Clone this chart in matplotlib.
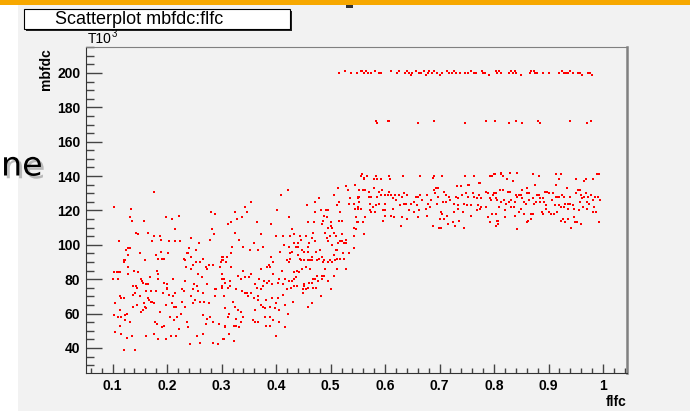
import numpy as np
import matplotlib.pyplot as plt
from matplotlib.patches import Rectangle
from matplotlib.ticker import MultipleLocator, FuncFormatter
import matplotlib.patheffects as pe

# values: (flfc, mbfdc in units of 10^3)
rise_left = [
    (0.175, 131), (0.103, 122), (0.134, 121), (0.281, 119), (0.288, 118), (0.197, 116), (0.222, 117),
    (0.132, 116), (0.209, 115), (0.136, 114), (0.157, 114), (0.215, 109), (0.282, 109), (0.143, 107),
    (0.146, 106), (0.165, 107), (0.176, 105), (0.187, 105), (0.286, 106), (0.188, 103), (0.173, 102),
    (0.278, 103), (0.111, 102), (0.203, 102), (0.214, 102), (0.224, 102), (0.243, 104), (0.259, 101),
    (0.240, 98), (0.132, 98), (0.129, 98), (0.124, 97), (0.151, 95), (0.189, 96), (0.201, 95),
    (0.252, 97), (0.236, 95), (0.239, 95), (0.128, 94), (0.180, 94), (0.191, 92), (0.194, 92),
    (0.184, 92), (0.120, 91), (0.123, 91), (0.159, 91), (0.120, 90), (0.230, 92), (0.232, 91),
    (0.244, 93), (0.252, 90), (0.260, 90), (0.266, 92), (0.247, 88), (0.243, 86), (0.235, 87),
    (0.271, 87), (0.277, 88), (0.285, 88), (0.299, 90), (0.302, 91), (0.297, 87), (0.303, 93),
    (0.129, 87), (0.140, 85), (0.181, 85), (0.102, 84), (0.107, 84), (0.110, 84), (0.114, 84),
    (0.147, 84), (0.273, 86), (0.301, 83), (0.129, 83), (0.184, 83), (0.257, 83), (0.101, 80),
    (0.110, 80), (0.168, 81), (0.183, 80), (0.211, 80), (0.233, 79), (0.263, 81), (0.304, 80),
    (0.152, 80), (0.154, 79), (0.156, 78), (0.162, 77), (0.164, 77), (0.137, 76), (0.143, 76),
    (0.194, 78), (0.199, 77), (0.200, 75), (0.250, 77), (0.254, 76), (0.273, 77), (0.288, 74),
    (0.290, 74), (0.301, 76), (0.247, 74), (0.257, 73), (0.145, 75), (0.162, 73), (0.171, 73),
    (0.180, 73), (0.200, 74), (0.203, 71), (0.215, 72), (0.193, 72), (0.227, 74), (0.230, 73),
    (0.141, 72), (0.138, 71), (0.113, 70), (0.120, 69), (0.116, 69), (0.266, 72), (0.287, 70),
    (0.304, 70), (0.165, 69), (0.167, 68), (0.170, 67), (0.173, 67), (0.176, 66), (0.150, 70),
    (0.157, 66), (0.211, 70), (0.227, 67), (0.244, 70), (0.251, 68), (0.261, 67), (0.268, 67),
    (0.276, 66), (0.104, 66), (0.197, 65), (0.208, 66), (0.137, 64), (0.145, 65), (0.159, 64),
    (0.161, 63), (0.212, 64), (0.217, 64), (0.232, 64), (0.248, 66), (0.306, 63), (0.114, 62),
    (0.152, 61), (0.156, 62), (0.187, 61), (0.126, 60), (0.123, 59), (0.102, 59), (0.109, 58),
    (0.116, 58), (0.123, 56), (0.131, 55), (0.206, 58), (0.218, 58), (0.225, 60), (0.265, 59),
    (0.279, 58), (0.273, 57), (0.213, 56), (0.284, 55), (0.271, 54), (0.295, 54), (0.306, 53),
    (0.178, 55), (0.181, 54), (0.195, 53), (0.191, 52), (0.236, 55), (0.238, 52), (0.113, 53),
    (0.221, 51), (0.105, 49), (0.116, 48), (0.127, 46), (0.135, 47), (0.161, 47), (0.175, 48),
    (0.207, 47), (0.217, 47), (0.255, 47), (0.266, 48), (0.183, 45), (0.197, 45), (0.241, 42),
    (0.261, 43), (0.285, 43), (0.293, 42), (0.304, 45), (0.121, 39), (0.141, 39),
]

rise_right = [
    (0.421, 132), (0.409, 129), (0.354, 125), (0.342, 122), (0.325, 119), (0.347, 119), (0.402, 120),
    (0.337, 116), (0.329, 115), (0.317, 113), (0.311, 112), (0.365, 113), (0.390, 112), (0.324, 107),
    (0.372, 106), (0.400, 105), (0.412, 105), (0.430, 109), (0.332, 103), (0.359, 101), (0.375, 99),
    (0.339, 99), (0.319, 99), (0.352, 97), (0.366, 97), (0.318, 95), (0.310, 93), (0.301, 93),
    (0.301, 91), (0.308, 90), (0.317, 87), (0.391, 93), (0.407, 96), (0.414, 100), (0.424, 99),
    (0.425, 95), (0.429, 96), (0.420, 91), (0.426, 92), (0.423, 90), (0.394, 90), (0.386, 88),
    (0.389, 87), (0.383, 87), (0.373, 86), (0.410, 85), (0.394, 83), (0.339, 85), (0.353, 83),
    (0.351, 81), (0.330, 82), (0.335, 80), (0.343, 81), (0.301, 80), (0.306, 78), (0.316, 79),
    (0.315, 76), (0.312, 75), (0.301, 75), (0.326, 74), (0.369, 80), (0.377, 79), (0.383, 78),
    (0.386, 79), (0.362, 77), (0.364, 75), (0.372, 74), (0.376, 76), (0.392, 77), (0.405, 80),
    (0.403, 78), (0.413, 77), (0.416, 80), (0.338, 73), (0.343, 72), (0.348, 70), (0.346, 72),
    (0.354, 72), (0.359, 69), (0.367, 70), (0.367, 68), (0.403, 69), (0.412, 71), (0.392, 69),
    (0.382, 68), (0.321, 67), (0.304, 70), (0.324, 64), (0.330, 62), (0.335, 61), (0.339, 58),
    (0.372, 65), (0.375, 64), (0.380, 63), (0.388, 64), (0.397, 63), (0.399, 66), (0.406, 62),
    (0.416, 65), (0.362, 62), (0.421, 60), (0.431, 67), (0.313, 60), (0.312, 58), (0.306, 63),
    (0.326, 57), (0.327, 53), (0.322, 53), (0.335, 55), (0.331, 52), (0.357, 56), (0.361, 55),
    (0.366, 55), (0.379, 58), (0.388, 58), (0.382, 53), (0.389, 53), (0.406, 55), (0.395, 56),
    (0.417, 52), (0.307, 52), (0.314, 48), (0.303, 45), (0.322, 44), (0.399, 47),
    (0.424, 116), (0.426, 105), (0.432, 106), (0.432, 101), (0.440, 101), (0.446, 103), (0.436, 99),
    (0.441, 99), (0.447, 97), (0.458, 99), (0.443, 105), (0.454, 105), (0.460, 101), (0.468, 107),
    (0.466, 104), (0.472, 102), (0.473, 96), (0.459, 96), (0.462, 91), (0.451, 91), (0.445, 91),
    (0.439, 85), (0.432, 84), (0.432, 80), (0.436, 81), (0.442, 84), (0.448, 86), (0.454, 87),
    (0.462, 86), (0.466, 91), (0.475, 91), (0.479, 92), (0.484, 93), (0.487, 91), (0.486, 90),
    (0.490, 86), (0.495, 90), (0.498, 91), (0.503, 90), (0.508, 91), (0.507, 94), (0.511, 92),
    (0.517, 92), (0.523, 95), (0.525, 92), (0.509, 97), (0.512, 97), (0.514, 101), (0.518, 102),
    (0.521, 102), (0.524, 101), (0.529, 103), (0.528, 101), (0.533, 95), (0.542, 98), (0.503, 100),
    (0.495, 102), (0.493, 104), (0.498, 105), (0.490, 107), (0.495, 110), (0.503, 110), (0.500, 111),
    (0.507, 107), (0.509, 105), (0.521, 106), (0.515, 114), (0.520, 114), (0.485, 112), (0.486, 114),
    (0.487, 117), (0.493, 116), (0.500, 113), (0.496, 120), (0.483, 120), (0.492, 120), (0.471, 119),
    (0.478, 127), (0.471, 125), (0.457, 123), (0.506, 129), (0.514, 133), (0.516, 125), (0.512, 123),
    (0.518, 119), (0.528, 134), (0.531, 132), (0.536, 127), (0.533, 124), (0.542, 124), (0.545, 135),
    (0.553, 128), (0.551, 127), (0.550, 122), (0.545, 121), (0.556, 121), (0.547, 116), (0.550, 113),
    (0.546, 109), (0.543, 105), (0.542, 110), (0.548, 113), (0.470, 113), (0.459, 113), (0.452, 96),
    (0.458, 91), (0.475, 82), (0.484, 82), (0.488, 82), (0.495, 79), (0.506, 82), (0.501, 74),
    (0.482, 70), (0.484, 80), (0.476, 79), (0.471, 80), (0.468, 80), (0.460, 78), (0.451, 77),
    (0.449, 74), (0.455, 74), (0.459, 75), (0.451, 76), (0.466, 78), (0.474, 75), (0.467, 75),
    (0.449, 72), (0.438, 76), (0.433, 76), (0.427, 75), (0.420, 74), (0.466, 66), (0.458, 64),
    (0.429, 79), (0.423, 79), (0.441, 94), (0.466, 93), (0.481, 97), (0.443, 92), (0.512, 86),
    (0.528, 86),
]

plateau_mid = [
    (0.561, 138), (0.579, 138), (0.609, 138), (0.773, 136), (0.754, 135), (0.732, 134), (0.740, 134),
    (0.553, 132), (0.559, 132), (0.563, 132), (0.570, 131), (0.579, 133), (0.589, 131), (0.595, 132),
    (0.607, 131), (0.694, 133), (0.698, 133), (0.690, 132), (0.709, 131), (0.748, 130), (0.761, 130),
    (0.773, 129), (0.786, 131), (0.789, 130), (0.802, 130), (0.798, 129), (0.551, 128), (0.570, 128),
    (0.574, 128), (0.586, 128), (0.592, 129), (0.600, 129), (0.605, 129), (0.611, 129), (0.618, 129),
    (0.626, 129), (0.631, 128), (0.634, 130), (0.641, 129), (0.656, 128), (0.660, 128), (0.664, 129),
    (0.676, 129), (0.692, 130), (0.698, 128), (0.712, 129), (0.718, 128), (0.730, 128), (0.734, 127),
    (0.741, 129), (0.752, 128), (0.764, 128), (0.768, 127), (0.776, 127), (0.792, 127), (0.803, 127),
    (0.550, 127), (0.553, 125), (0.573, 124), (0.578, 122), (0.584, 123), (0.589, 124), (0.599, 124),
    (0.615, 127), (0.620, 126), (0.627, 123), (0.634, 124), (0.638, 124), (0.648, 124), (0.653, 125),
    (0.659, 123), (0.668, 126), (0.679, 124), (0.685, 126), (0.695, 124), (0.706, 125), (0.712, 125),
    (0.720, 126), (0.727, 124), (0.734, 123), (0.744, 124), (0.751, 123), (0.758, 123), (0.770, 123),
    (0.776, 122), (0.786, 122), (0.795, 126), (0.551, 121), (0.572, 120), (0.581, 119), (0.597, 120),
    (0.600, 120), (0.614, 121), (0.644, 120), (0.653, 119), (0.663, 120), (0.675, 121), (0.683, 122),
    (0.702, 119), (0.704, 118), (0.714, 117), (0.726, 119), (0.734, 121), (0.743, 119), (0.757, 117),
    (0.769, 120), (0.775, 121), (0.788, 116), (0.796, 118), (0.803, 118), (0.805, 114), (0.564, 116),
    (0.575, 119), (0.600, 117), (0.611, 117), (0.617, 116), (0.631, 116), (0.641, 115), (0.661, 116),
    (0.676, 117), (0.701, 115), (0.708, 115), (0.724, 113), (0.736, 114), (0.792, 113), (0.804, 111),
    (0.550, 113), (0.559, 113), (0.596, 114), (0.629, 111), (0.687, 111), (0.699, 110), (0.702, 110),
    (0.715, 112), (0.728, 111), (0.745, 110), (0.562, 106),
    (0.555, 140), (0.558, 141), (0.561, 139), (0.566, 140), (0.579, 138), (0.584, 140), (0.585, 138),
    (0.592, 138), (0.608, 140), (0.609, 138), (0.632, 140), (0.664, 140), (0.687, 139), (0.690, 140),
    (0.705, 140), (0.747, 140), (0.764, 140), (0.793, 140), (0.796, 140), (0.799, 141), (0.812, 141),
    (0.545, 135), (0.753, 135), (0.774, 136),
]

plateau_right = [
    (0.801, 141), (0.812, 142), (0.816, 140), (0.829, 142), (0.843, 142), (0.871, 141), (0.883, 140),
    (0.913, 141), (0.922, 141), (0.920, 138), (0.950, 138), (0.965, 137), (0.968, 138), (0.981, 138),
    (0.989, 141), (0.992, 141), (0.823, 138), (0.835, 137), (0.875, 135), (0.913, 135), (0.811, 132),
    (0.800, 130), (0.803, 130), (0.817, 132), (0.825, 131), (0.829, 131), (0.841, 129), (0.846, 129),
    (0.850, 129), (0.852, 132), (0.861, 133), (0.860, 130), (0.864, 130), (0.872, 127), (0.878, 129),
    (0.882, 129), (0.885, 127), (0.890, 127), (0.894, 131), (0.898, 131), (0.901, 130), (0.908, 130),
    (0.913, 128), (0.916, 128), (0.920, 128), (0.925, 129), (0.928, 128), (0.934, 133), (0.940, 128),
    (0.951, 130), (0.954, 132), (0.957, 132), (0.960, 129), (0.965, 128), (0.968, 130), (0.973, 128),
    (0.978, 129), (0.985, 128), (0.991, 128), (0.994, 126), (0.981, 126), (0.805, 126), (0.813, 125),
    (0.818, 126), (0.822, 124), (0.828, 125), (0.832, 126), (0.838, 125), (0.843, 128), (0.852, 127),
    (0.855, 125), (0.858, 124), (0.865, 126), (0.873, 124), (0.877, 125), (0.884, 125), (0.891, 125),
    (0.896, 123), (0.907, 126), (0.912, 123), (0.920, 123), (0.931, 124), (0.935, 124), (0.940, 124),
    (0.945, 123), (0.957, 125), (0.961, 127), (0.970, 125), (0.974, 124), (0.983, 122), (0.809, 122),
    (0.820, 120), (0.831, 122), (0.836, 122), (0.845, 119), (0.849, 121), (0.855, 118), (0.867, 118),
    (0.872, 118), (0.888, 119), (0.890, 118), (0.895, 121), (0.901, 119), (0.905, 118), (0.910, 118),
    (0.916, 119), (0.922, 122), (0.928, 122), (0.935, 121), (0.946, 121), (0.955, 120), (0.963, 122),
    (0.971, 121), (0.982, 119), (0.987, 119), (0.807, 114), (0.807, 112), (0.820, 116), (0.838, 117),
    (0.860, 113), (0.863, 114), (0.867, 115), (0.926, 115), (0.923, 114), (0.931, 113), (0.935, 115),
    (0.941, 110), (0.946, 116), (0.948, 113), (0.953, 113), (0.960, 112), (0.993, 113), (0.842, 109),
]

band_200 = [
    (0.515, 200), (0.527, 201), (0.538, 200), (0.548, 200), (0.555, 201), (0.558, 201), (0.562, 200),
    (0.565, 201), (0.569, 200), (0.575, 200), (0.581, 201), (0.588, 200), (0.593, 200), (0.611, 201),
    (0.622, 200), (0.626, 201), (0.637, 200), (0.641, 201), (0.644, 200), (0.647, 199), (0.649, 200),
    (0.656, 201), (0.662, 200), (0.666, 200), (0.671, 201), (0.675, 199), (0.679, 200), (0.681, 201),
    (0.686, 200), (0.690, 201), (0.695, 200), (0.700, 199), (0.704, 200), (0.714, 201), (0.717, 200),
    (0.722, 200), (0.726, 201), (0.731, 200), (0.738, 200), (0.746, 200), (0.753, 200), (0.758, 201),
    (0.763, 200), (0.766, 200), (0.777, 201), (0.780, 200), (0.784, 200), (0.790, 199), (0.803, 201),
    (0.806, 200), (0.809, 201), (0.813, 200), (0.827, 200), (0.831, 201), (0.835, 200), (0.838, 201),
    (0.841, 200), (0.849, 199), (0.866, 200), (0.868, 201), (0.873, 201), (0.876, 200), (0.879, 200),
    (0.890, 200), (0.901, 200), (0.919, 200), (0.925, 201), (0.928, 200), (0.932, 200), (0.935, 200),
    (0.940, 201), (0.944, 200), (0.954, 200), (0.958, 200), (0.962, 199), (0.973, 200), (0.977, 200),
    (0.979, 199),
]

band_172 = [
    (0.583, 172), (0.586, 171), (0.605, 172), (0.608, 172), (0.660, 171), (0.690, 172), (0.746, 171),
    (0.786, 172), (0.801, 172), (0.827, 171), (0.840, 172), (0.851, 171), (0.880, 172), (0.885, 171),
    (0.939, 172), (0.970, 171), (0.978, 172),
]

groups = [rise_left, rise_right, plateau_mid, plateau_right, band_200, band_172]

plt.rcParams['font.family'] = ['Liberation Sans', 'DejaVu Sans']

W, H = 690, 411
bg = '#f2f2f2'
fig = plt.figure(figsize=(W / 100, H / 100), dpi=100, facecolor=bg)

# slide leftovers around the canvas
fig.patches.append(Rectangle((0, 0), 18 / W, 1, transform=fig.transFigure,
                             facecolor='white', edgecolor='none', zorder=0))
fig.patches.append(Rectangle((0, 1 - 5 / H), 1, 5 / H, transform=fig.transFigure,
                             facecolor='#f7a800', edgecolor='none', zorder=1))
fig.patches.append(Rectangle((346 / W, 1 - 8 / H), 7 / W, 3 / H, transform=fig.transFigure,
                             facecolor='#333333', edgecolor='none', zorder=1))
fig.text(1 / W, 1 - 166 / H, 'ne', fontsize=24, family='DejaVu Sans', color='black',
         va='center', ha='left',
         path_effects=[pe.withSimplePatchShadow(offset=(2, -2), shadow_rgbFace='gray', alpha=0.5)])

ax = fig.add_axes([86 / W, 1 - 373 / H, 541 / W, 326 / H], facecolor=bg)
for g in groups:
    arr = np.array(g)
    ax.scatter(arr[:, 0], arr[:, 1], s=4, marker='s', c='#ff0000', linewidths=0, zorder=3)

ax.set_xlim(0.051, 1.044)
ax.set_ylim(25.4, 215.1)

ax.xaxis.set_major_locator(MultipleLocator(0.1))
ax.xaxis.set_minor_locator(MultipleLocator(0.02))
ax.yaxis.set_major_locator(MultipleLocator(20))
ax.yaxis.set_minor_locator(MultipleLocator(5))
ax.xaxis.set_major_formatter(FuncFormatter(lambda v, p: f'{v:g}'))
ax.yaxis.set_major_formatter(FuncFormatter(lambda v, p: f'{v:g}'))

ax.tick_params(axis='both', which='both', direction='in', colors='#444444',
               labelcolor='black', top=False, right=False)
ax.tick_params(axis='x', which='major', length=6.5, width=1, pad=4)
ax.tick_params(axis='x', which='minor', length=3.5, width=1)
ax.tick_params(axis='y', which='major', length=11.5, width=1, pad=4)
ax.tick_params(axis='y', which='minor', length=5.8, width=1)
for lab in ax.get_xticklabels() + ax.get_yticklabels():
    lab.set_fontweight('bold')
    lab.set_fontsize(10)

ax.spines['left'].set_color('#333333')
ax.spines['bottom'].set_color('#333333')
ax.spines['top'].set_color('#808080')
ax.spines['right'].set_color('#808080')
ax.spines['right'].set_linewidth(1.8)

fig.text(46 / W, 1 - 48 / H, 'mbfdc', rotation=90, ha='center', va='top',
         fontsize=10, fontweight='bold')
fig.text(627 / W, 1 - 402 / H, 'flfc', ha='right', va='center',
         fontsize=10, fontweight='bold')
fig.text(88 / W, 1 - 39 / H, 'T10', ha='left', va='center', fontsize=10)
fig.text(112 / W, 1 - 34 / H, '3', ha='left', va='center', fontsize=7)

# title box with shadow
fig.patches.append(Rectangle((26 / W, 1 - 31 / H), 266 / W, 20 / H, transform=fig.transFigure,
                             facecolor='#222222', edgecolor='none', zorder=2))
fig.patches.append(Rectangle((24 / W, 1 - 29 / H), 266 / W, 20 / H, transform=fig.transFigure,
                             facecolor='white', edgecolor='black', linewidth=0.8, zorder=3))
fig.text(55 / W, 1 - 19.5 / H, 'Scatterplot mbfdc:flfc', ha='left', va='center',
         fontsize=13, family=['Liberation Sans Narrow', 'Liberation Sans'], zorder=4)

fig.savefig('out.png', dpi=100, facecolor=bg)
